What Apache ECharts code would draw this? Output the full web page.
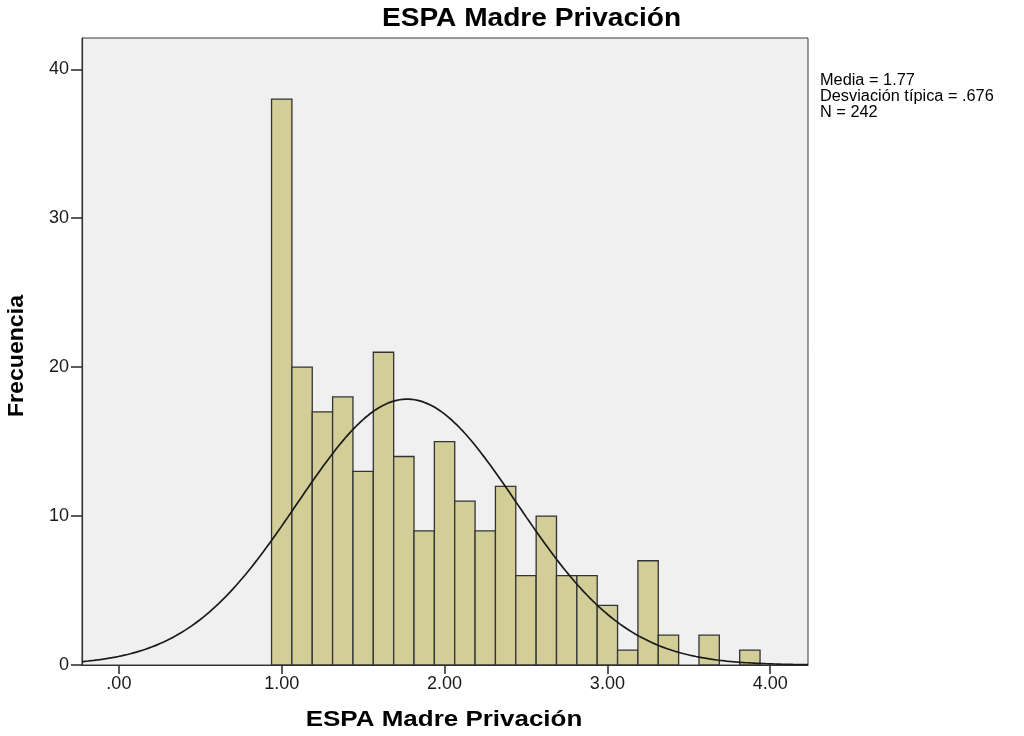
<!DOCTYPE html>
<html>
<head>
<meta charset="utf-8">
<title>ESPA Madre Privación</title>
<script src="https://cdn.jsdelivr.net/npm/echarts@6/dist/echarts.min.js"></script>
<style>
  html, body { margin: 0; padding: 0; background: #ffffff; }
  #chart { width: 1024px; height: 736px; }
</style>
</head>
<body>
<div id="chart"></div>
<script>
// Histogram bins: lower edge of the first bin and the common bin width
const binStart = 0.9375;
const binWidth = 0.125;
// Frequency of each bin, in order
const frequencies = [38, 20, 17, 18, 13, 21, 14, 9, 15, 11, 9, 12, 6, 10, 6, 6, 4, 1, 7, 2, 0, 2, 0, 1];
// Summary statistics shown beside the plot
const media = 1.77;
const desviacion = 0.676;
const n = 242;
// Axis ticks and ranges
const xTicks = [0, 1, 2, 3, 4];
const yTicks = [0, 10, 20, 30, 40];
const xRange = [-0.2265, 4.232];
const yMax = 42.1;
// Texts
const titleText = 'ESPA Madre Privación';
const xName = 'ESPA Madre Privación';
const yName = 'Frecuencia';
const statLines = [
  'Media = ' + media.toFixed(2),
  'Desviación típica = ' + desviacion.toFixed(3).replace(/^0/, ''),
  'N = ' + n
];

const bins = frequencies.map((f, i) => [binStart + i * binWidth, binStart + (i + 1) * binWidth, f]);

// Normal curve with the stated mean and standard deviation, scaled to counts per bin
const curve = [];
const steps = 240;
for (let i = 0; i <= steps; i++) {
  const x = xRange[0] + (xRange[1] - xRange[0]) * i / steps;
  const z = (x - media) / desviacion;
  const y = n * binWidth * Math.exp(-0.5 * z * z) / (desviacion * Math.sqrt(2 * Math.PI));
  curve.push([x, y]);
}

const font = '"Liberation Sans", Arial, sans-serif';
const chart = echarts.init(document.getElementById('chart'), null, { renderer: 'canvas' });

const textEl = (text, x, y, size, weight, align, sx, rot) => ({
  type: 'text',
  x: x, y: y,
  scaleX: sx,
  rotation: rot || 0,
  style: {
    text: text,
    x: 0, y: 0,
    align: align,
    verticalAlign: 'middle',
    font: weight + ' ' + size + 'px ' + font,
    fill: '#000'
  }
});

chart.setOption({
  animation: false,
  backgroundColor: '#ffffff',
  grid: {
    left: 82, right: 216, top: 38, bottom: 71,
    show: true,
    backgroundColor: '#f0f0f0',
    borderColor: '#3a3a3a',
    borderWidth: 1,
    outerBoundsMode: 'none'
  },
  graphic: [
    textEl(titleText, 382, 19, 26, 'bold', 'left', 1.08),
    textEl(xName, 444, 720, 22, 'bold', 'center', 1.18),
    textEl(yName, 17, 356, 22, 'bold', 'center', 1.05, Math.PI / 2),
    textEl(statLines[0], 820, 81, 16, 'normal', 'left', 1.02),
    textEl(statLines[1], 820, 97, 16, 'normal', 'left', 1.02),
    textEl(statLines[2], 820, 113, 16, 'normal', 'left', 1.02)
  ],
  xAxis: {
    type: 'value',
    min: xRange[0],
    max: xRange[1],
    splitLine: { show: false },
    axisLine: { show: true, onZero: false, lineStyle: { color: '#333', width: 1.2 } },
    axisTick: { show: true, length: 9, customValues: xTicks, lineStyle: { color: '#333', width: 1.6 } },
    axisLabel: {
      customValues: xTicks,
      margin: 10,
      fontFamily: font, fontSize: 18, color: '#1a1a1a',
      formatter: v => v.toFixed(2).replace(/^0/, '')
    }
  },
  yAxis: {
    type: 'value',
    min: 0,
    max: yMax,
    splitLine: { show: false },
    axisLine: { show: true, onZero: false, lineStyle: { color: '#333', width: 1.2 } },
    axisTick: { show: true, length: 11, customValues: yTicks, lineStyle: { color: '#333', width: 1.6 } },
    axisLabel: {
      customValues: yTicks,
      margin: 13,
      fontFamily: font, fontSize: 18, color: '#1a1a1a'
    }
  },
  series: [
    {
      type: 'custom',
      data: bins,
      encode: { x: [0, 1], y: 2 },
      renderItem: (params, api) => {
        if (api.value(2) <= 0) return null;
        const p0 = api.coord([api.value(0), 0]);
        const p1 = api.coord([api.value(1), api.value(2)]);
        return {
          type: 'rect',
          shape: { x: p0[0], y: p1[1], width: p1[0] - p0[0], height: p0[1] - p1[1] },
          style: { fill: '#d3ce98', stroke: '#333', lineWidth: 1.3 }
        };
      },
      z: 2
    },
    {
      type: 'line',
      data: curve,
      showSymbol: false,
      smooth: false,
      lineStyle: { color: '#1a1a1a', width: 1.7 },
      z: 3
    }
  ]
});
</script>
</body>
</html>
